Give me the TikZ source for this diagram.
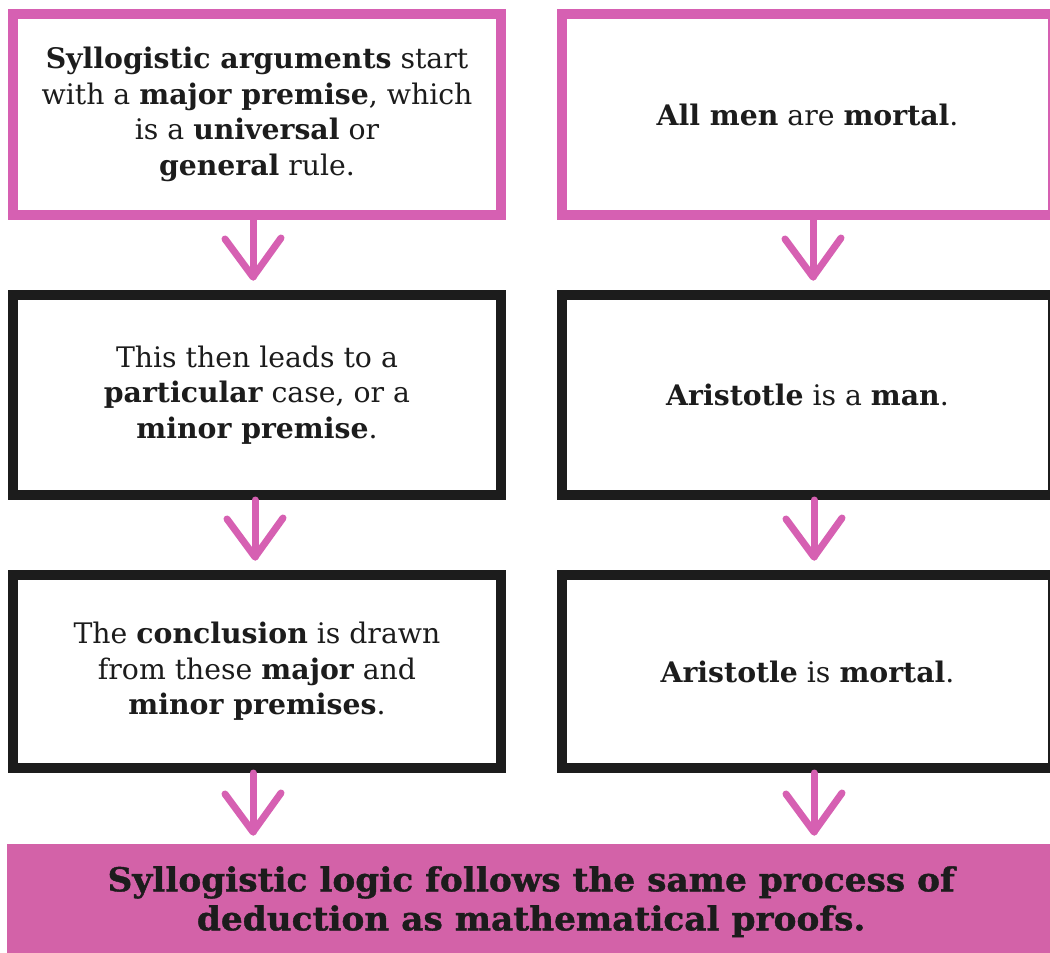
\documentclass[tikz,border=0pt]{standalone}
\usepackage{fontspec}
\usetikzlibrary{calc}
\setmainfont{DejaVu Serif}
\newfontfamily\barfont[FakeStretch=1.04,FakeBold=1.2]{DejaVu Serif}
\definecolor{pk}{HTML}{D660B2}
\definecolor{pkfill}{HTML}{D362A8}
\definecolor{ink}{HTML}{1C1C1C}
\tikzset{
  box/.style={draw, line width=10pt, inner sep=0pt, align=center, text=ink,
    font=\fontsize{28.3}{35.5}\selectfont},
  leftbox/.style={box, minimum width=488pt},
  rightbox/.style={box, minimum width=491pt},
  pinkbox/.style={draw=pk},
  blackbox/.style={draw=ink},
  flow/.style={draw=pk, line width=7pt, line cap=round, line join=round},
  bar/.style={fill=pkfill, inner sep=0pt, align=center, text=ink,
    font=\barfont\bfseries\fontsize{33}{39}\selectfont}
}
\begin{document}
\begin{tikzpicture}[x=1pt,y=-1pt]
\useasboundingbox (0,0) rectangle (1050,953);
\fill[white] (0,0) rectangle (1050,953);
% row 1
\node (L1) [leftbox, pinkbox, minimum height=201pt] at (257,114.5)
  {{\bfseries Syllogistic arguments} start\\with a {\bfseries major premise}, which\\is a {\bfseries universal} or\\{\bfseries general} rule.};
\node (R1) [rightbox, pinkbox, minimum height=201pt] at (807.5,114.5)
  {{\bfseries All men} are {\bfseries mortal}.};
% row 2
\node (L2) [leftbox, blackbox, minimum height=200pt] at (257,395)
  {This then leads to a\\{\bfseries particular} case, or a\\{\bfseries minor premise}.};
\node (R2) [rightbox, blackbox, minimum height=200pt] at (807.5,395)
  {{\bfseries Aristotle} is a {\bfseries man}.};
% row 3
\node (L3) [leftbox, blackbox, minimum height=193pt] at (257,671.5)
  {The {\bfseries conclusion} is drawn\\from these {\bfseries major} and\\{\bfseries minor premises}.};
\node (R3) [rightbox, blackbox, minimum height=193pt] at (807.5,671.5)
  {{\bfseries Aristotle} is {\bfseries mortal}.};
% bottom bar
\node (B) [bar, minimum width=1048pt, minimum height=115pt, anchor=north west] at (7,844)
  {Syllogistic logic follows the same process of\\deduction as mathematical proofs.};
% arrow tips
\coordinate (tL1) at (253,277);
\coordinate (tR1) at (813,277);
\coordinate (tL2) at (255,557);
\coordinate (tR2) at (814,557);
\coordinate (tL3) at (253,832);
\coordinate (tR3) at (814,832);
% arrows
\foreach \b/\t in {L1/tL1, R1/tR1, L2/tL2, R2/tR2, L3/tL3, R3/tR3}{
  \draw[flow] (\t |- \b.south) -- (\t);
  \draw[flow] ($(\t)+(-28,-38)$) -- (\t) -- ($(\t)+(28,-39)$);
}
\end{tikzpicture}
\end{document}
